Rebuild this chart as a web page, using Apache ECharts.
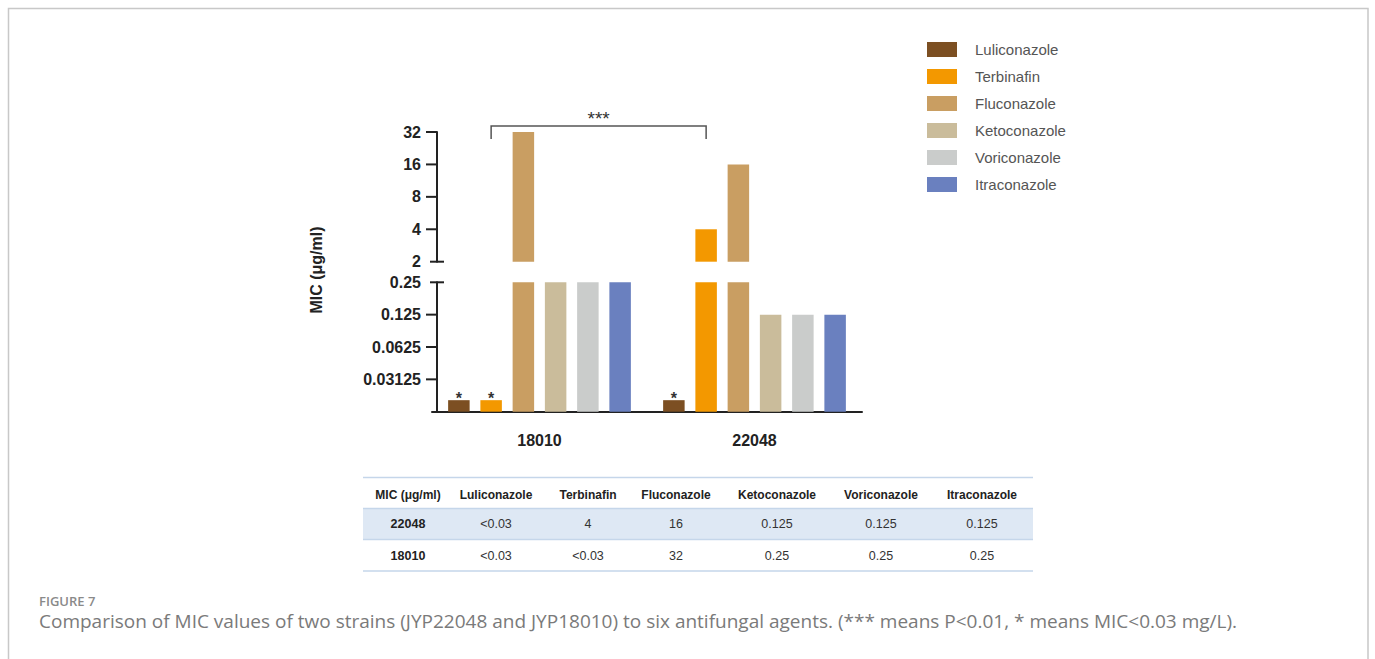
<!DOCTYPE html>
<html><head><meta charset="utf-8">
<script src="https://cdn.jsdelivr.net/npm/echarts@6/dist/echarts.min.js"></script>
<style>html,body{margin:0;padding:0;background:#fff}#c{width:1375px;height:659px}</style>
</head><body><div id="c"></div>
<script>
// ---- data ----
const strains = ['18010', '22048'];
const drugs = ['Luliconazole', 'Terbinafin', 'Fluconazole', 'Ketoconazole', 'Voriconazole', 'Itraconazole'];
const mic18010 = [0.02, 0.02, 32, 0.25, 0.25, 0.25];
const mic22048 = [0.02, 4, 16, 0.125, 0.125, 0.125];
const tableRowStrains = ['22048', '18010'];
const upperRange = [2, 32];
const lowerRange = [0.015625, 0.25];
const upperTicks = [4, 8, 16, 32];
const lowerTicks = [0.03125, 0.0625, 0.125];
const lowLimit = 0.03;
const colors = ['#7C4F22', '#F39800', '#C99E62', '#CABC9B', '#CACCCB', '#6A80BF'];

const FONT = 'Liberation Sans';
const chart = echarts.init(document.getElementById('c'), null, {renderer: 'svg'});

const AXIS_SHIFT = 5;
const series = [];
drugs.forEach((d, i) => {
  const vals = [mic18010[i], mic22048[i]];
  series.push({
    type: 'bar', name: d, xAxisIndex: 1, yAxisIndex: 1, data: vals,
    barWidth: 21.5, barGap: '50%', itemStyle: {color: colors[i]},
    label: {show: true, position: 'top', distance: 0, offset: [0, 6],
      formatter: p => (p.value < lowLimit ? '*' : ''),
      fontSize: 16, fontWeight: 'bold', color: '#333', fontFamily: FONT}
  });
  series.push({
    type: 'bar', name: d, xAxisIndex: 0, yAxisIndex: 0,
    data: vals.map(v => (v > upperRange[0] ? v : '-')),
    barWidth: 21.5, barGap: '50%', itemStyle: {color: colors[i]}
  });
});

const yLabel = {margin: 16, fontSize: 16, fontWeight: 'bold', color: '#222', fontFamily: FONT};
const axisLine = {show: true, lineStyle: {color: '#222', width: 2}};

chart.setOption({
  animation: false,
  textStyle: {fontFamily: FONT},
  legend: {
    orient: 'vertical', left: 927, top: 42, padding: 0, itemWidth: 30, itemHeight: 15, itemGap: 12,
    icon: 'rect', data: drugs,
    textStyle: {fontSize: 15, color: '#555', padding: [0, 0, 0, 13], lineHeight: 15, fontFamily: FONT}
  },
  grid: [
    {left: 432, width: 430, top: 132, height: 129.7},
    {left: 432, width: 430, top: 282.3, height: 129.4}
  ],
  xAxis: [
    {gridIndex: 0, type: 'category', data: strains, show: false},
    {gridIndex: 1, type: 'category', data: strains,
     axisLine: {lineStyle: {color: '#222', width: 2}},
     axisTick: {alignWithLabel: true, length: 11, lineStyle: {color: '#222', width: 2}},
     axisLabel: {margin: 21, fontSize: 16, fontWeight: 'bold', color: '#222', fontFamily: FONT}}
  ],
  yAxis: [
    {gridIndex: 0, type: 'log', logBase: 2, min: upperRange[0], max: upperRange[1], startValue: upperRange[0],
     offset: -AXIS_SHIFT, axisLine, axisTick: {show: false}, splitLine: {show: false},
     axisLabel: Object.assign({formatter: v => String(+(+v).toPrecision(6))}, yLabel)},
    {gridIndex: 1, type: 'log', logBase: 2, min: lowerRange[0], max: lowerRange[1], startValue: lowerRange[0],
     offset: -AXIS_SHIFT, axisLine, axisTick: {show: false}, splitLine: {show: false},
     axisLabel: Object.assign({formatter: v => (v < 0.02 ? '' : String(+(+v).toPrecision(6)))}, yLabel)}
  ],
  series
});

// ---- decorations computed from the library's scales ----
const els = [];
const gridRect = idx => chart.getModel().getComponent('grid', idx).coordinateSystem.getRect();
const r0 = gridRect(0);
const axisX = r0.x + AXIS_SHIFT;
const line = (x1, y1, x2, y2, color, w) => ({type: 'line', silent: true,
  shape: {x1, y1, x2, y2}, style: {stroke: color, lineWidth: w}});

upperTicks.forEach(v => { const y = chart.convertToPixel({yAxisIndex: 0}, v); els.push(line(axisX - 11, y, axisX, y, '#222', 2)); });
lowerTicks.forEach(v => { const y = chart.convertToPixel({yAxisIndex: 1}, v); els.push(line(axisX - 11, y, axisX, y, '#222', 2)); });
// break markers
const yb1 = chart.convertToPixel({yAxisIndex: 0}, upperRange[0]);
const yb2 = chart.convertToPixel({yAxisIndex: 1}, lowerRange[1]);
els.push(line(axisX - 7, yb1, axisX + 7, yb1, '#222', 2));
els.push(line(axisX - 7, yb2, axisX + 7, yb2, '#222', 2));

// significance bracket between Terbinafin bars
const terbIdx = drugs.indexOf('Terbinafin') * 2;
const terbData = chart.getModel().getSeriesByIndex(terbIdx).getData();
const l0 = terbData.getItemLayout(0), l1 = terbData.getItemLayout(1);
const bx1 = l0.x + l0.width / 2, bx2 = l1.x + l1.width / 2;
const by = r0.y - 6;
els.push({type: 'polyline', silent: true, shape: {points: [[bx1, by + 13], [bx1, by], [bx2, by], [bx2, by + 13]]},
  style: {stroke: '#555', lineWidth: 1.5, fill: null}});
els.push({type: 'text', silent: true, style: {text: '***', x: (bx1 + bx2) / 2, y: by + 2, align: 'center', verticalAlign: 'bottom',
  font: '19px ' + FONT, fill: '#333'}});

// y axis title
els.push({type: 'text', silent: true, x: 316.7, y: 270, rotation: Math.PI / 2,
  style: {text: 'MIC (μg/ml)', x: 0, y: 0, align: 'center', verticalAlign: 'middle', font: 'bold 16px ' + FONT, fill: '#222'}});

// ---- table ----
const colX = [408, 496, 588, 676, 777, 881, 982];
const tL = 363, tR = 1033;
const rowY = [495, 524, 556];
els.push({type: 'rect', silent: true, shape: {x: tL, y: 508.5, width: tR - tL, height: 31}, style: {fill: '#DEE8F4'}});
[477.5, 508.5, 539.5, 571].forEach(y => els.push(line(tL, y, tR, y, '#C5D6EA', 1.5)));
const header = ['MIC (μg/ml)'].concat(drugs);
header.forEach((h, c) => els.push({type: 'text', silent: true,
  style: {text: h, x: colX[c], y: rowY[0], align: 'center', verticalAlign: 'middle', font: 'bold 12px ' + FONT, fill: '#222'}}));
tableRowStrains.forEach((s, r) => {
  const vals = s === '18010' ? mic18010 : mic22048;
  els.push({type: 'text', silent: true,
    style: {text: s, x: colX[0], y: rowY[r + 1], align: 'center', verticalAlign: 'middle', font: 'bold 12.5px ' + FONT, fill: '#222'}});
  vals.forEach((v, c) => els.push({type: 'text', silent: true,
    style: {text: v < lowLimit ? '<0.03' : String(v), x: colX[c + 1], y: rowY[r + 1], align: 'center', verticalAlign: 'middle',
      font: '12.5px ' + FONT, fill: '#333'}}));
});

// ---- caption & frame ----
els.push({type: 'text', silent: true, style: {text: 'FIGURE 7', x: 39, y: 601, verticalAlign: 'middle',
  font: '600 13px "Open Sans"', fill: '#8a8a8a'}});
els.push({type: 'text', silent: true, style: {text: 'Comparison of MIC values of two strains (JYP22048 and JYP18010) to six antifungal agents. (*** means P<0.01, * means MIC<0.03 mg/L).',
  x: 39, y: 621, verticalAlign: 'middle', font: '19px "Open Sans"', fill: '#7a7a7a'}});
els.push({type: 'rect', silent: true, shape: {x: 8.5, y: 8.5, width: 1359.5, height: 700},
  style: {fill: 'none', stroke: '#C8C8C8', lineWidth: 1.5}});

chart.setOption({graphic: {elements: els}});
</script></body></html>
